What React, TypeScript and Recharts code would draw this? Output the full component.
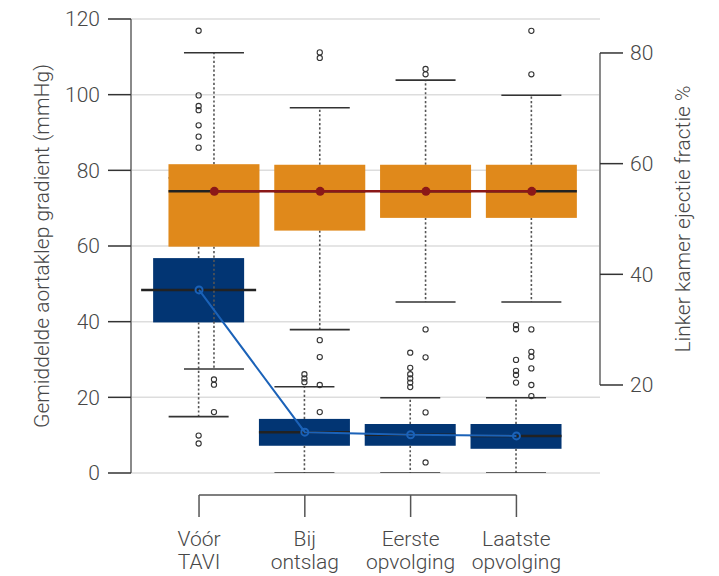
import React from 'react';
import { ComposedChart, Bar, Line, XAxis, YAxis, CartesianGrid, ReferenceLine } from 'recharts';

// ---------- data ----------
const positions = [1, 2, 3, 4];
const categoryLines = [
  ['Vóór', 'TAVI'],
  ['Bij', 'ontslag'],
  ['Eerste', 'opvolging'],
  ['Laatste', 'opvolging'],
];

// Gemiddelde aortaklep gradient (mmHg) — left axis
const gradQ1 = [39.8, 7.2, 7.2, 6.4];
const gradQ3 = [56.8, 14.3, 12.95, 12.95];
const gradMedian = [48.4, 10.8, 10.1, 9.8];
const gradLow = [14.9, 0, 0, 0];
const gradHigh = [78, 22.8, 19.9, 19.9];
const gradOutliers = [
  [116.9, 99.8, 97.0, 95.9, 91.9, 88.9, 86.0, 9.9, 7.8],
  [26.1, 25.0, 24.0],
  [31.8, 27.8, 26.1, 25.0, 23.9, 22.7],
  [39.1, 38.0, 29.9, 27.0, 25.9, 23.9],
];
const gradMean = [48.4, 10.8, 10.1, 9.8];

// Linker kamer ejectie fractie % — right axis
const efQ1 = [45.0, 47.9, 50.2, 50.2];
const efQ3 = [59.9, 59.8, 59.8, 59.8];
const efMedian = [55, 55, 55, 55];
const efLow = [22.9, 30.0, 35.0, 35.0];
const efHigh = [80.05, 70.1, 75.1, 72.35];
const efOutliers = [
  [21.0, 20.05, 15.1],
  [80.1, 79.1, 28.1, 25.05, 20.0, 15.1],
  [77.1, 76.15, 30.05, 25.0, 15.05, 6.0],
  [84.0, 76.15, 30.05, 26.0, 25.1, 23.0, 20.0, 18.0],
];
const efMean = [55, 55, 55, 55];

const leftTicks = [0, 20, 40, 60, 80, 100, 120];
const rightTicks = [20, 40, 60, 80];

// ---------- layout / style constants ----------
const XMIN = 0.357;
const XMAX = 4.79;
const ORANGE_SHIFT = 0.145;
const BRACKET_Y = -5.8;
const RIGHT_DOMAIN: [number, number] = [4.096, 86.14];
const BOX_HALF = 45.5;
const STAPLE_HALF = 30;
const MEDIAN_OVERHANG = [12, 0, 0, 0];

const NAVY = '#023573';
const ORANGE = '#E0891B';
const BLUE_LINE = '#1B62B8';
const DARK_RED = '#8B1818';
const TEXT = '#474747';
const FONT = 'Roboto, "Noto Sans", sans-serif';
const FS = 21;

const rows = positions.map((p, i) => ({
  pos: p,
  idx: i,
  gradBox: [gradQ1[i], gradQ3[i]],
  efBox: [efQ1[i], efQ3[i]],
  grad: {
    q1: gradQ1[i], q3: gradQ3[i], median: gradMedian[i],
    low: gradLow[i], high: gradHigh[i], outliers: gradOutliers[i],
  },
  ef: {
    q1: efQ1[i], q3: efQ3[i], median: efMedian[i],
    low: efLow[i], high: efHigh[i], outliers: efOutliers[i],
  },
  gradMean: gradMean[i],
  efMean: efMean[i],
}));

function BoxShape(props: any) {
  const { x, y, width, height, payload, kind, fill } = props;
  if (!payload) return null;
  const s = payload[kind];
  const top = Math.min(y, y + height);
  const bot = Math.max(y, y + height);
  const k = (bot - top) / (s.q3 - s.q1);
  const py = (v: number) => bot - (v - s.q1) * k;
  const cx = x + width / 2;
  const over = kind === 'grad' ? MEDIAN_OVERHANG[payload.idx] : 0;

  const box = (
    <rect x={cx - BOX_HALF} y={py(s.q3)} width={BOX_HALF * 2} height={py(s.q1) - py(s.q3)} fill={fill} />
  );
  const whiskers = (
    <g>
      <line x1={cx} x2={cx} y1={py(s.q3)} y2={py(s.high)} stroke="#555" strokeWidth={1.6} strokeDasharray="2.2 2.2" />
      <line x1={cx} x2={cx} y1={py(s.q1)} y2={py(s.low)} stroke="#555" strokeWidth={1.6} strokeDasharray="2.2 2.2" />
      <line x1={cx - STAPLE_HALF} x2={cx + STAPLE_HALF} y1={py(s.high)} y2={py(s.high)} stroke="#333" strokeWidth={1.6} />
      <line x1={cx - STAPLE_HALF} x2={cx + STAPLE_HALF} y1={py(s.low)} y2={py(s.low)} stroke="#333" strokeWidth={1.6} />
      {s.outliers.map((v: number, j: number) => (
        <circle key={j} cx={cx} cy={py(v)} r={2.6} fill="none" stroke="#333" strokeWidth={1.1} />
      ))}
    </g>
  );
  const median = (
    <line x1={cx - BOX_HALF - over} x2={cx + BOX_HALF + over} y1={py(s.median)} y2={py(s.median)} stroke="#222" strokeWidth={2.5} />
  );
  return kind === 'grad' ? (
    <g>{box}{whiskers}{median}</g>
  ) : (
    <g>{whiskers}{box}{median}</g>
  );
}

function XTick(props: any) {
  const { x, y, payload } = props;
  const idx = positions.indexOf(payload.value);
  const lines = categoryLines[idx] || ['', ''];
  const style = { fontFamily: FONT, fontWeight: 300, fontSize: FS, fill: TEXT } as any;
  return (
    <g>
      <line x1={x} x2={x} y1={y + 22} y2={y + 44} stroke="#555" strokeWidth={1.5} />
      <text x={x} y={y + 73} textAnchor="middle" style={style}>{lines[0]}</text>
      <text x={x} y={y + 96} textAnchor="middle" style={style}>{lines[1]}</text>
    </g>
  );
}

const titleStyle = { fontFamily: FONT, fontWeight: 300, fontSize: FS, fill: TEXT } as any;

function LeftTitle(props: any) {
  const vb = props.viewBox || { y: 19, height: 454 };
  const cx = 42;
  const cy = vb.y + vb.height / 2;
  return (
    <text x={cx} y={cy} transform={`rotate(-90 ${cx} ${cy})`} textAnchor="middle" dominantBaseline="central" style={titleStyle}>
      Gemiddelde aortaklep gradient (mmHg)
    </text>
  );
}

function RightTitle() {
  const cx = 683;
  const cy = 219;
  return (
    <text x={cx} y={cy} transform={`rotate(-90 ${cx} ${cy})`} textAnchor="middle" dominantBaseline="central" style={titleStyle}>
      Linker kamer ejectie fractie %
    </text>
  );
}

export default function App() {
  const tickStyle = { fill: TEXT, fontSize: FS, fontFamily: FONT, fontWeight: 300 };
  return (
    <div style={{ position: 'absolute', left: 0, top: 0, width: 719, height: 576, background: '#fff' }}>
      <ComposedChart width={719} height={576} data={rows} margin={{ top: 19, right: 0, bottom: 0, left: 0 }}>
        <CartesianGrid xAxisId="blue" yAxisId="left" vertical={false} stroke="#dddddd" strokeWidth={1.5} />
        <XAxis
          xAxisId="blue"
          type="number"
          dataKey="pos"
          domain={[XMIN, XMAX]}
          ticks={positions}
          interval={0}
          allowDataOverflow
          axisLine={false}
          tickLine={false}
          tickSize={0}
          tickMargin={0}
          height={103}
          tick={<XTick />}
        />
        <XAxis
          xAxisId="orange"
          type="number"
          dataKey="pos"
          domain={[XMIN - ORANGE_SHIFT, XMAX - ORANGE_SHIFT]}
          allowDataOverflow
          hide
        />
        <YAxis
          yAxisId="left"
          width={131}
          domain={[0, 120]}
          ticks={leftTicks}
          interval={0}
          allowDataOverflow
          tickSize={23}
          tickMargin={8}
          tick={tickStyle}
          tickLine={{ stroke: '#333', strokeWidth: 1.5 }}
          axisLine={{ stroke: '#8a8a8a', strokeWidth: 2 }}
          label={<LeftTitle />}
        />
        <YAxis
          yAxisId="right"
          orientation="right"
          width={119}
          domain={RIGHT_DOMAIN}
          ticks={rightTicks}
          interval={0}
          allowDataOverflow
          tickSize={23}
          tickMargin={7}
          tick={tickStyle}
          tickLine={{ stroke: '#333', strokeWidth: 1.5 }}
          axisLine={false}
          label={<RightTitle />}
        />
        <ReferenceLine
          xAxisId="blue"
          yAxisId="right"
          segment={[{ x: XMAX, y: 20 }, { x: XMAX, y: 80 }]}
          stroke="#8a8a8a"
          strokeWidth={2}
          ifOverflow="visible"
        />
        <ReferenceLine
          xAxisId="blue"
          yAxisId="left"
          segment={[{ x: 1, y: BRACKET_Y }, { x: 4, y: BRACKET_Y }]}
          stroke="#555"
          strokeWidth={1.5}
          ifOverflow="visible"
        />
        <Bar
          xAxisId="blue"
          yAxisId="left"
          dataKey="gradBox"
          barSize={91}
          isAnimationActive={false}
          shape={(p: any) => <BoxShape {...p} kind="grad" fill={NAVY} />}
        />
        <Bar
          xAxisId="orange"
          yAxisId="right"
          dataKey="efBox"
          barSize={91}
          isAnimationActive={false}
          shape={(p: any) => <BoxShape {...p} kind="ef" fill={ORANGE} />}
        />
        <Line
          xAxisId="blue"
          yAxisId="left"
          dataKey="gradMean"
          stroke={BLUE_LINE}
          strokeWidth={2}
          dot={{ r: 3.5, stroke: BLUE_LINE, strokeWidth: 2, fill: 'none' }}
          activeDot={false}
          isAnimationActive={false}
        />
        <Line
          xAxisId="orange"
          yAxisId="right"
          dataKey="efMean"
          stroke={DARK_RED}
          strokeWidth={2.5}
          dot={{ r: 4.5, stroke: DARK_RED, strokeWidth: 0, fill: DARK_RED }}
          activeDot={false}
          isAnimationActive={false}
        />
      </ComposedChart>
    </div>
  );
}
